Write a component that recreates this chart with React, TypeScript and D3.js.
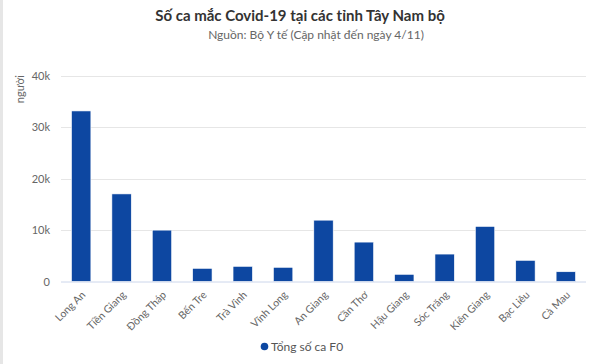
import { useEffect, useRef } from "react";
import * as d3 from "d3";

// provinces and total F0 cases
const provinces = [
  "Long An", "Tiền Giang", "Đồng Tháp", "Bến Tre", "Trà Vinh", "Vĩnh Long", "An Giang",
  "Cần Thơ", "Hậu Giang", "Sóc Trăng", "Kiên Giang", "Bạc Liêu", "Cà Mau",
];
const cases = [33200, 17050, 10000, 2560, 2950, 2760, 11940, 7670, 1400, 5340, 10720, 4120, 1900];
const yTicks = [0, 10000, 20000, 30000, 40000];
const seriesName = "Tổng số ca F0";
const title = "Số ca mắc Covid-19 tại các tỉnh Tây Nam bộ";
const subtitle = "Nguồn: Bộ Y tế (Cập nhật đến ngày 4/11)";
const yTitle = "người";

export default function App() {
  const ref = useRef<SVGSVGElement>(null);

  useEffect(() => {
    const svg = d3.select(ref.current);
    svg.selectAll("*").remove();

    const width = 600;
    const height = 364;
    const margin = { top: 76, right: 14, bottom: 82, left: 61 };
    const font = "Lato, 'Open Sans', sans-serif";

    // thin grey frame strip on the left
    svg.append("rect").attr("x", 0).attr("y", 0).attr("width", 3).attr("height", height).attr("fill", "#e6e6e6");

    const x = d3.scaleBand()
      .domain(provinces)
      .range([margin.left, width - margin.right])
      .padding(0);

    const y = d3.scaleLinear()
      .domain([0, 40000])
      .range([height - margin.bottom - 0.5, margin.top]);

    // grid lines
    svg.append("g")
      .selectAll("line")
      .data(yTicks.slice(1))
      .join("line")
      .attr("x1", margin.left)
      .attr("x2", width - margin.right)
      .attr("y1", d => Math.round(y(d)) + 0.5)
      .attr("y2", d => Math.round(y(d)) + 0.5)
      .attr("stroke", "#e6e6e6");

    // y tick labels
    svg.append("g")
      .selectAll("text")
      .data(yTicks)
      .join("text")
      .attr("x", 50)
      .attr("y", d => y(d) + 4)
      .attr("text-anchor", "end")
      .style("font-family", font)
      .style("font-size", "11px")
      .style("fill", "#666")
      .text(d => (d === 0 ? "0" : d / 1000 + "k"));

    // y axis title
    svg.append("text")
      .attr("transform", `translate(24,${margin.top - 1}) rotate(-90)`)
      .attr("text-anchor", "end")
      .style("font-family", font)
      .style("font-size", "11px")
      .style("fill", "#666")
      .text(yTitle);

    // bars
    const barW = x.bandwidth() * 0.48;
    svg.append("g")
      .selectAll("rect")
      .data(provinces)
      .join("rect")
      .attr("x", (d) => x(d)! + (x.bandwidth() - barW) / 2)
      .attr("y", (d, i) => y(cases[i]))
      .attr("width", barW)
      .attr("height", (d, i) => y(0) - y(cases[i]))
      .attr("fill", "#0d47a1")
      .attr("stroke", "#fff")
      .attr("stroke-width", 0.6);

    // x axis line
    svg.append("line")
      .attr("x1", margin.left)
      .attr("x2", width - margin.right)
      .attr("y1", y(0) + 0.5)
      .attr("y2", y(0) + 0.5)
      .attr("stroke", "#ccd6eb");

    // x labels rotated -45
    svg.append("g")
      .selectAll("text")
      .data(provinces)
      .join("text")
      .attr("transform", d => `translate(${x(d)! + x.bandwidth() / 2 + 5},${y(0) + 14}) rotate(-45)`)
      .attr("text-anchor", "end")
      .style("font-family", font)
      .style("font-size", "10.5px")
      .style("fill", "#666")
      .text(d => d);

    // title + subtitle
    svg.append("text")
      .attr("x", width / 2)
      .attr("y", 21)
      .attr("text-anchor", "middle")
      .style("font-family", font)
      .style("font-size", "15px")
      .style("font-weight", "bold")
      .style("fill", "#333")
      .text(title);

    svg.append("text")
      .attr("x", 316)
      .attr("y", 39)
      .attr("text-anchor", "middle")
      .style("font-family", font)
      .style("font-size", "12px")
      .style("fill", "#666")
      .text(subtitle);

    // legend
    svg.append("circle")
      .attr("cx", 264.5)
      .attr("cy", 346.5)
      .attr("r", 3.8)
      .attr("fill", "#0d47a1");

    svg.append("text")
      .attr("x", 271)
      .attr("y", 350.5)
      .style("font-family", font)
      .style("font-size", "12px")
      .style("fill", "#555")
      .text(seriesName);
  }, []);

  return (
    <svg
      ref={ref}
      width={600}
      height={364}
      style={{ position: "absolute", left: 0, top: 0, background: "#fff" }}
    />
  );
}
